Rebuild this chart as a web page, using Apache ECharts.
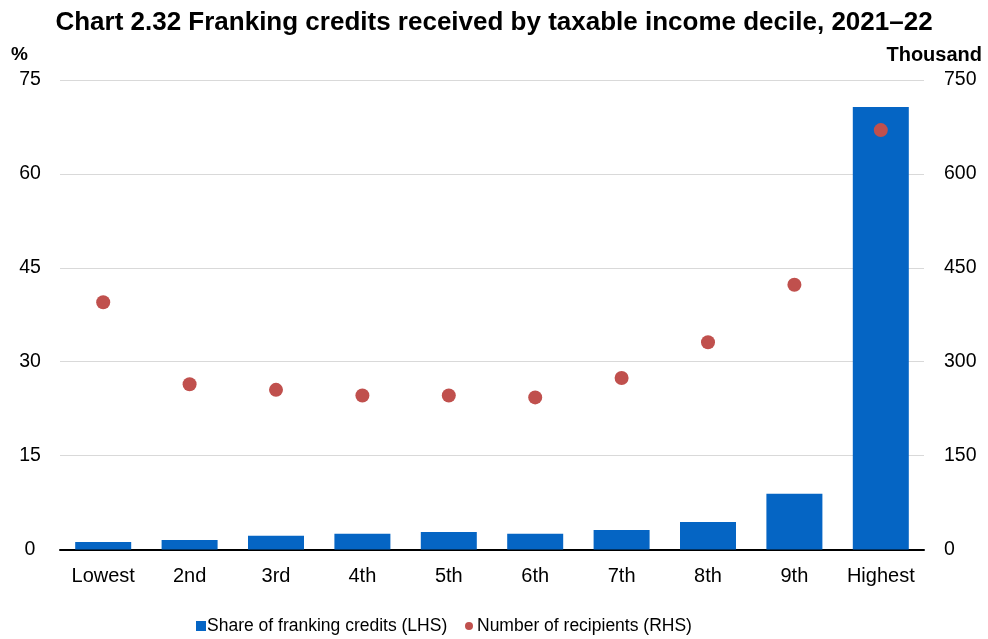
<!DOCTYPE html>
<html>
<head>
<meta charset="utf-8">
<script src="https://cdn.jsdelivr.net/npm/echarts@6/dist/echarts.min.js"></script>
<style>
  html, body { margin: 0; padding: 0; background: #fff; }
  #chart { width: 988px; height: 639px; }
</style>
</head>
<body>
<div id="chart"></div>
<script>
// Taxable income deciles
const deciles = ['Lowest', '2nd', '3rd', '4th', '5th', '6th', '7th', '8th', '9th', 'Highest'];
// Share of franking credits, per cent (LHS)
const shareOfCredits = [1.2, 1.5, 2.2, 2.5, 2.8, 2.5, 3.1, 4.4, 8.9, 70.7];
// Number of recipients, thousand (RHS)
const recipients = [395, 264, 255, 246, 246, 243, 274, 331, 423, 670];
// Axis ticks
const leftTicks = [0, 15, 30, 45, 60, 75];
const rightTicks = [0, 150, 300, 450, 600, 750];

const FONT = '"Liberation Sans", Arial, sans-serif';
const BAR_NAME = 'Share of franking credits (LHS)';
const DOT_NAME = 'Number of recipients (RHS)';
const chart = echarts.init(document.getElementById('chart'), null, { renderer: 'canvas' });

chart.setOption({
  animation: false,
  textStyle: { fontFamily: FONT },
  title: {
    text: 'Chart 2.32 Franking credits received by taxable income decile, 2021\u201322',
    left: 'center',
    top: 5,
    textStyle: { fontFamily: FONT, fontSize: 26, fontWeight: 'bold', color: '#000' }
  },
  graphic: [
    { type: 'text', left: 11, top: 45, style: { text: '%', font: 'bold 19px ' + FONT, fill: '#000' } },
    { type: 'text', right: 6, top: 45, style: { text: 'Thousand', font: 'bold 20px ' + FONT, fill: '#000' } }
  ],
  legend: [
    {
      top: 612,
      left: 191,
      itemWidth: 10,
      itemHeight: 10,
      textStyle: { fontFamily: FONT, fontSize: 17.5, color: '#000', padding: [0, 0, 0, -4] },
      data: [{ name: BAR_NAME, icon: 'rect' }]
    },
    {
      top: 612,
      left: 460,
      itemWidth: 8,
      itemHeight: 8,
      textStyle: { fontFamily: FONT, fontSize: 17.5, color: '#000', padding: [0, 0, 0, -1] },
      data: [{ name: DOT_NAME, icon: 'circle' }]
    }
  ],
  grid: { left: 60, right: 64, top: 80, bottom: 89.5 },
  xAxis: {
    type: 'category',
    data: deciles,
    axisLine: { lineStyle: { color: '#000', width: 2 } },
    axisTick: { inside: true, length: 7, lineStyle: { color: '#000', width: 1.5 } },
    axisLabel: { fontSize: 20, color: '#000', margin: 17, interval: 0, fontFamily: FONT }
  },
  yAxis: [
    {
      type: 'value', min: leftTicks[0], max: leftTicks[leftTicks.length - 1], interval: 15,
      axisLine: { show: false }, axisTick: { show: false },
      axisLabel: { fontSize: 19.5, color: '#000', margin: 30, align: 'center', fontFamily: FONT },
      splitLine: { lineStyle: { color: '#d9d9d9', width: 1 } }
    },
    {
      type: 'value', min: rightTicks[0], max: rightTicks[rightTicks.length - 1], interval: 150,
      axisLine: { show: false }, axisTick: { show: false },
      axisLabel: { fontSize: 19.5, color: '#000', margin: 20, align: 'left', fontFamily: FONT },
      splitLine: { show: false }
    }
  ],
  series: [
    {
      name: BAR_NAME,
      type: 'bar',
      yAxisIndex: 0,
      data: shareOfCredits,
      barWidth: 56,
      itemStyle: { color: '#0565C4' },
      z: 2
    },
    {
      name: DOT_NAME,
      type: 'scatter',
      yAxisIndex: 1,
      data: recipients,
      symbol: 'circle',
      symbolSize: 14,
      itemStyle: { color: '#C0504D', opacity: 1 },
      z: 3
    }
  ]
});
</script>
</body>
</html>
